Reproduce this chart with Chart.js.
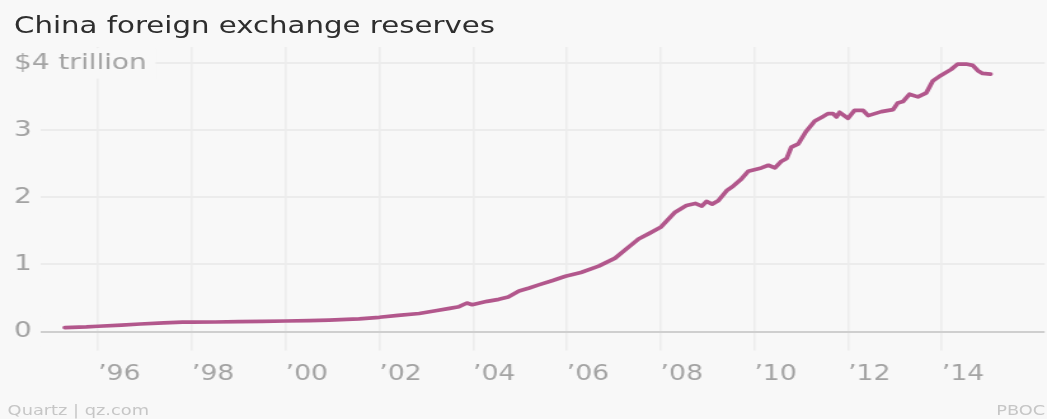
<!DOCTYPE html>
<html>
<head>
<meta charset="utf-8">
<title>China foreign exchange reserves</title>
<script src="https://cdn.jsdelivr.net/npm/chart.js@4.4.1/dist/chart.umd.min.js"></script>
<style>
  html, body { margin: 0; padding: 0; background: #f8f8f8; overflow: hidden; }
  /* the whole graphic is laid out narrow and widened as one piece */
  #frame { position: absolute; left: 0; top: 0; width: 824px; height: 419px; transform: scaleX(1.2706); transform-origin: 0 0; font-family: "DejaVu Sans", sans-serif; }
  #title { position: absolute; left: 11px; top: 14px; font-size: 23px; line-height: 23px; color: #2e2e2e; white-space: nowrap; }
  #chart-box { position: absolute; left: 0; top: 0; width: 824px; height: 419px; }
  .note { position: absolute; top: 403px; font-size: 14px; line-height: 14px; color: #c6c6c6; white-space: nowrap; }
</style>
</head>
<body>
<div id="frame">
  <div id="chart-box"><canvas id="reserves-chart"></canvas></div>
  <div id="title">China foreign exchange reserves</div>
  <div class="note" style="left:6px">Quartz | qz.com</div>
  <div class="note" style="left:784px">PBOC</div>
</div>
<script>
// month-end readings, decimal years
const years = [
  1995.29, 1995.75, 1996.0, 1996.5, 1996.9, 1997.4, 1997.8, 1998.0, 1998.5, 1999.0,
  1999.5, 2000.0, 2000.5, 2000.93, 2001.3, 2001.57, 2002.0, 2002.4, 2002.85, 2003.2,
  2003.5, 2003.7, 2003.87, 2003.98, 2004.3, 2004.55, 2004.75, 2004.98, 2005.2, 2005.4,
  2005.7, 2005.97, 2006.3, 2006.68, 2007.03, 2007.3, 2007.53, 2007.75, 2008.0, 2008.31,
  2008.55, 2008.74, 2008.88, 2008.98, 2009.1, 2009.23, 2009.41, 2009.55, 2009.73, 2009.87,
  2010.15, 2010.3, 2010.44, 2010.58, 2010.69, 2010.79, 2010.94, 2011.1, 2011.29, 2011.45,
  2011.57, 2011.68, 2011.75, 2011.82, 2012.0, 2012.14, 2012.32, 2012.43, 2012.71, 2012.96,
  2013.06, 2013.17, 2013.31, 2013.49, 2013.67, 2013.81, 2013.98, 2014.2, 2014.34, 2014.52,
  2014.66, 2014.77, 2014.87, 2015.04
];
// $ trillion
const reserves = [
  0.057, 0.068, 0.078, 0.095, 0.112, 0.128, 0.140, 0.141, 0.142, 0.146,
  0.150, 0.157, 0.162, 0.170, 0.180, 0.188, 0.212, 0.240, 0.268, 0.310,
  0.345, 0.370, 0.425, 0.400, 0.450, 0.480, 0.515, 0.605, 0.650, 0.695,
  0.760, 0.825, 0.880, 0.975, 1.095, 1.250, 1.380, 1.460, 1.554, 1.780,
  1.880, 1.910, 1.870, 1.940, 1.900, 1.950, 2.100, 2.170, 2.280, 2.390,
  2.440, 2.480, 2.440, 2.540, 2.580, 2.750, 2.800, 2.980, 3.140, 3.200,
  3.250, 3.250, 3.200, 3.270, 3.180, 3.300, 3.300, 3.220, 3.280, 3.310,
  3.410, 3.430, 3.540, 3.500, 3.560, 3.740, 3.820, 3.910, 3.990, 3.990,
  3.970, 3.890, 3.850, 3.840
];
const yearTicks = [1996, 1998, 2000, 2002, 2004, 2006, 2008, 2010, 2012, 2014];
const valueTicks = [0, 1, 2, 3, 4];

const BG = '#f8f8f8';
const GRID = '#ececec';
const ZERO = '#cfcfcf';
const LABEL = '#a3a3a3';

new Chart(document.getElementById('reserves-chart'), {
  type: 'line',
  data: {
    datasets: [{
      data: years.map((x, i) => ({ x, y: reserves[i] })),
      borderColor: '#b2578c',
      borderWidth: 3.7,
      borderJoinStyle: 'round',
      borderCapStyle: 'round',
      pointRadius: 0,
      tension: 0
    }]
  },
  options: {
    responsive: true, maintainAspectRatio: false, animation: false,
    layout: { padding: { top: 47, left: 11, right: 0, bottom: 21.3 } },
    plugins: { legend: { display: false }, tooltip: { enabled: false } },
    scales: {
      x: {
        type: 'linear', min: 1994.206, max: 2016.194,
        afterBuildTicks: s => { s.ticks = yearTicks.map(v => ({ value: v })); },
        grid: { color: GRID, tickColor: GRID, lineWidth: 1.6, drawTicks: true, tickLength: 19 },
        border: { display: false },
        ticks: {
          align: 'start', padding: 11, color: LABEL, maxRotation: 0, autoSkip: false,
          font: { family: 'DejaVu Sans', size: 21 },
          callback: v => '\u2019' + String(v).slice(2)
        }
      },
      y: {
        min: 0, max: 4.244,
        afterBuildTicks: s => { s.ticks = valueTicks.map(v => ({ value: v })); },
        grid: { color: ctx => (ctx.tick && ctx.tick.value === 0 ? ZERO : GRID), lineWidth: 2, drawTicks: false },
        border: { display: false },
        ticks: {
          mirror: true, padding: 0, color: LABEL,
          font: { family: 'DejaVu Sans', size: 22 },
          showLabelBackdrop: true, backdropColor: BG,
          backdropPadding: { top: 2, bottom: 2, left: 3, right: 7 },
          callback: v => (v === 4 ? '$4 trillion' : v)
        }
      }
    }
  }
});
</script>
</body>
</html>
